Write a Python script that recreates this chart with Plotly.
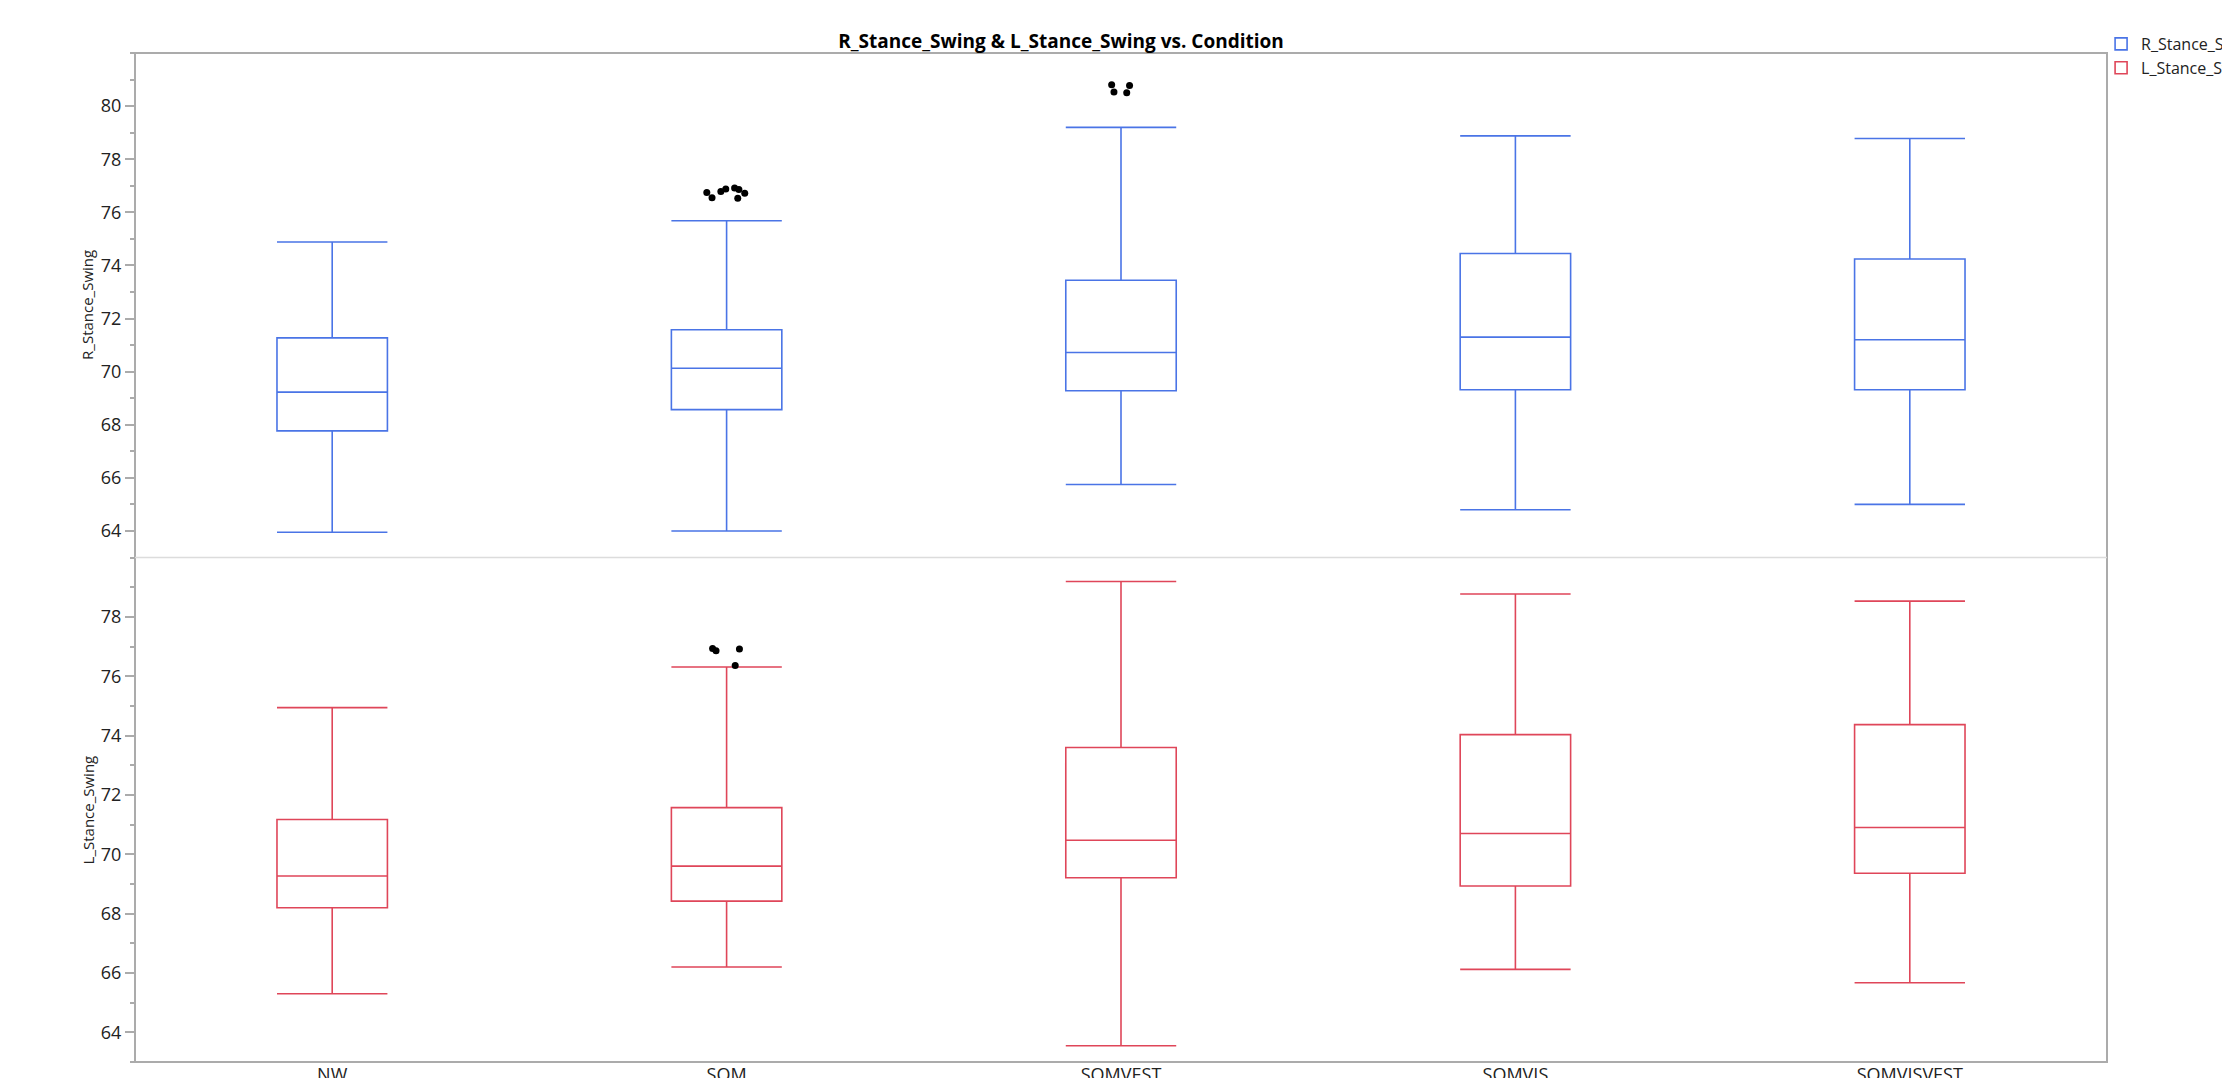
import plotly.graph_objects as go
from plotly.subplots import make_subplots

categories = ["NW", "SOM", "SOMVEST", "SOMVIS", "SOMVISVEST"]

# Tick labels for each panel
r_ticks = [64, 66, 68, 70, 72, 74, 76, 78, 80]
l_ticks = [64, 66, 68, 70, 72, 74, 76, 78]

# R_Stance_Swing box statistics per condition
r_lower = [63.95, 64.0, 65.75, 64.8, 65.0]
r_q1 = [67.77, 68.57, 69.28, 69.32, 69.32]
r_median = [69.23, 70.13, 70.72, 71.3, 71.2]
r_q3 = [71.27, 71.58, 73.44, 74.45, 74.24]
r_upper = [74.88, 75.68, 79.2, 78.88, 78.78]
r_outliers_som = [76.75, 76.55, 76.72, 76.78, 76.88, 76.92, 76.86, 76.53]
r_outliers_somvest = [80.8, 80.78, 80.53, 80.5]

# L_Stance_Swing box statistics per condition
l_lower = [65.3, 66.2, 63.55, 66.12, 65.67]
l_q1 = [68.2, 68.42, 69.21, 68.93, 69.36]
l_median = [69.27, 69.6, 70.47, 70.7, 70.9]
l_q3 = [71.17, 71.57, 73.6, 74.03, 74.37]
l_upper = [74.94, 76.31, 79.19, 78.77, 78.53]
l_outliers_som = [76.92, 76.93, 76.86, 76.36]

BLUE = "#4A74E6"
RED = "#DF4659"
GRID = "#ABABAB"
FONT = "Open Sans, Noto Sans, sans-serif"

fig = make_subplots(rows=2, cols=1, shared_xaxes=True, vertical_spacing=0)

fig.add_trace(go.Box(
    x=categories, q1=r_q1, median=r_median, q3=r_q3,
    lowerfence=r_lower, upperfence=r_upper,
    name="R_Stance_Swing", boxpoints=False, whiskerwidth=1, width=0.28,
    line=dict(color=BLUE, width=1.6), fillcolor="rgba(0,0,0,0)",
), row=1, col=1)

fig.add_trace(go.Box(
    x=categories, q1=l_q1, median=l_median, q3=l_q3,
    lowerfence=l_lower, upperfence=l_upper,
    name="L_Stance_Swing", boxpoints=False, whiskerwidth=1, width=0.28,
    line=dict(color=RED, width=1.6), fillcolor="rgba(0,0,0,0)",
), row=2, col=1)

def outlier_trace(cat, vals, jitter):
    return go.Box(
        x=[cat] * len(vals), y=vals, boxpoints="all", jitter=jitter, pointpos=0,
        width=0.28, showlegend=False, fillcolor="rgba(0,0,0,0)",
        line=dict(color="rgba(0,0,0,0)", width=0),
        marker=dict(color="black", size=7), hoverinfo="y",
    )

fig.add_trace(outlier_trace("SOM", r_outliers_som, 0.5), row=1, col=1)
fig.add_trace(outlier_trace("SOMVEST", r_outliers_somvest, 0.2), row=1, col=1)
fig.add_trace(outlier_trace("SOM", l_outliers_som, 0.3), row=2, col=1)

yaxis_common = dict(
    ticks="outside", ticklen=9, tickwidth=1.5, tickcolor=GRID,
    showgrid=False, zeroline=False, showline=False,
    tickfont=dict(family=FONT, size=18, color="#222"),
    minor=dict(dtick=1, ticks="outside", ticklen=4, tickcolor=GRID, tickwidth=1.5),
)
fig.update_yaxes(range=[63, 82], tickmode="array", tickvals=r_ticks, **yaxis_common, row=1, col=1)
fig.update_yaxes(range=[63, 80], tickmode="array", tickvals=l_ticks, **yaxis_common, row=2, col=1)
fig.update_xaxes(
    type="category", categoryorder="array", categoryarray=categories,
    range=[-0.5, 4.5], showgrid=False, zeroline=False, showline=False, ticks="",
    tickfont=dict(family=FONT, size=18, color="#222"),
)

fig.add_shape(type="rect", xref="paper", yref="paper", x0=0, x1=1, y0=0, y1=1,
              line=dict(color=GRID, width=2), layer="above")
fig.add_shape(type="line", xref="paper", yref="paper", x0=0, x1=1, y0=0.5, y1=0.5,
              line=dict(color="#DCDCDC", width=1.5), layer="above")

fig.add_annotation(text="R_Stance_Swing", xref="paper", yref="paper", x=-0.024, y=0.75,
                   textangle=-90, showarrow=False, xanchor="center", yanchor="middle",
                   font=dict(family=FONT, size=15, color="#222"))
fig.add_annotation(text="L_Stance_Swing", xref="paper", yref="paper", x=-0.024, y=0.25,
                   textangle=-90, showarrow=False, xanchor="center", yanchor="middle",
                   font=dict(family=FONT, size=15, color="#222"))

fig.update_layout(
    width=2222, height=1078,
    margin=dict(l=135, r=115, t=53, b=16, autoexpand=False),
    paper_bgcolor="white", plot_bgcolor="white",
    boxmode="overlay",
    title=dict(text="<b>R_Stance_Swing & L_Stance_Swing vs. Condition</b>",
               xref="container", x=0.4775, xanchor="center",
               yref="container", y=1 - 41 / 1078, yanchor="middle",
               font=dict(family=FONT, size=19, color="black")),
    legend=dict(x=0.997, xanchor="left", y=1 - 27 / 1078, yref="container", yanchor="top",
                font=dict(family=FONT, size=16, color="#222"), tracegroupgap=0,
                itemwidth=30, bgcolor="rgba(0,0,0,0)"),
    showlegend=True,
)

fig.write_html("out.html", config={"displayModeBar": False},
               post_script="document.body.style.margin='0';document.body.style.overflow='hidden';")
